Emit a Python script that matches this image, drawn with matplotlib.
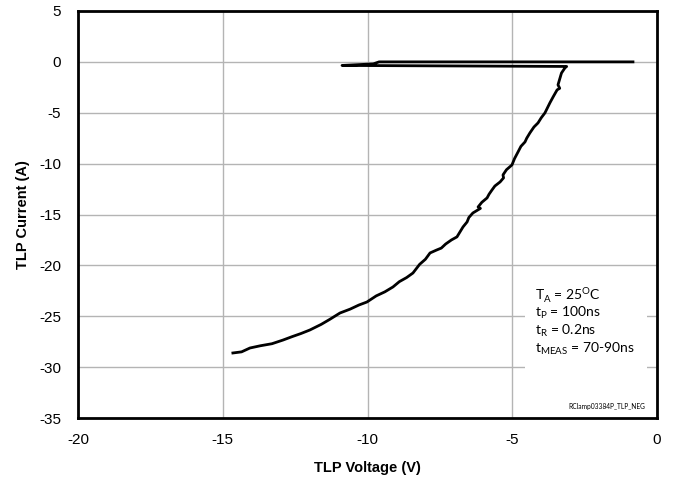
import numpy as np
import matplotlib
matplotlib.use('Agg')
import matplotlib.pyplot as plt
from matplotlib.patches import Rectangle

tlp_voltage = [-0.83, -9.6, -9.8, -10.88, -3.12, -3.18, -3.30, -3.42, -3.36, -3.45,
               -3.58, -3.70, -3.87, -4.00, -4.11, -4.25, -4.39, -4.50, -4.56,
               -4.70, -4.80, -4.92, -5.01, -5.20, -5.32, -5.30, -5.42, -5.60,
               -5.70, -5.80, -5.87, -6.05, -6.18, -6.10, -6.36, -6.50, -6.56,
               -6.70, -6.91, -7.10, -7.30, -7.45, -7.62, -7.84, -8.00, -8.20,
               -8.43, -8.65, -8.90, -9.12, -9.40, -9.70, -10.02, -10.30, -10.60,
               -10.95, -11.30, -11.60, -11.99, -12.30, -12.60, -12.92, -13.30,
               -13.70, -14.06, -14.35, -14.65]
tlp_current = [0.0, 0.0, -0.2, -0.35, -0.45, -0.59, -1.10, -2.26, -2.60, -2.75,
               -3.40, -4.03, -5.01, -5.50, -6.00, -6.40, -6.98, -7.50, -7.87,
               -8.30, -8.85, -9.50, -10.13, -10.60, -11.11, -11.40, -11.80, -12.20,
               -12.59, -13.00, -13.37, -13.80, -14.26, -14.40, -14.85, -15.30, -15.73,
               -16.22, -17.20, -17.50, -17.90, -18.30, -18.50, -18.78, -19.40, -19.90,
               -20.75, -21.20, -21.60, -22.12, -22.60, -23.00, -23.60, -23.90, -24.30,
               -24.68, -25.30, -25.80, -26.35, -26.70, -27.00, -27.34, -27.70,
               -27.90, -28.12, -28.50, -28.61]

x_ticks = [-20, -15, -10, -5, 0]
y_ticks = [5, 0, -5, -10, -15, -20, -25, -30, -35]

notes = [r'T$_\mathregular{A}$ = 25$^\mathregular{O}$C',
         r't$_\mathregular{P}$ = 100ns',
         r't$_\mathregular{R}$ = 0.2ns',
         r't$_\mathregular{MEAS}$ = 70-90ns']
tag = 'RClamp03384P_TLP_NEG'

plt.rcParams['font.family'] = ['Liberation Sans', 'DejaVu Sans']
plt.rcParams['axes.unicode_minus'] = False

fig = plt.figure(figsize=(6.73, 4.78), dpi=100)
ax = fig.add_axes([78 / 673, 1 - 418 / 478, 579 / 673, 407 / 478])

ax.plot(tlp_voltage, tlp_current, color='black', lw=2.0, solid_joinstyle='round', zorder=4)

ax.set_xlim(-20, 0)
ax.set_ylim(-35, 5)
ax.set_xticks(x_ticks)
ax.set_yticks(y_ticks)
ax.tick_params(length=0, labelsize=11)
ax.tick_params(axis='x', pad=11)
ax.tick_params(axis='y', pad=12)
ax.grid(True, color='#b4b4b4', lw=1.0)
ax.set_axisbelow(True)
for s in ax.spines.values():
    s.set_linewidth(2.0)
    s.set_color('black')

ax.set_xlabel('TLP Voltage (V)', fontsize=10.5, fontweight='bold', labelpad=10)
ax.set_ylabel('TLP Current (A)', fontsize=10.5, fontweight='bold', labelpad=7)

# white note box covering the grid
ax.add_patch(Rectangle((-4.55, -33.0), 4.2, 12.4, facecolor='white', edgecolor='none', zorder=3))
for i, t in enumerate(notes):
    ax.text(-4.2, -22.9 - i * 1.78, t, fontsize=10, family=['Lato', 'DejaVu Sans'],
            va='center', ha='left', zorder=5)
ax.text(-0.4, -33.9, tag, fontsize=4.8, family=['Lato', 'DejaVu Sans'],
        va='center', ha='right', zorder=5)

fig.savefig('out.png', dpi=100)
